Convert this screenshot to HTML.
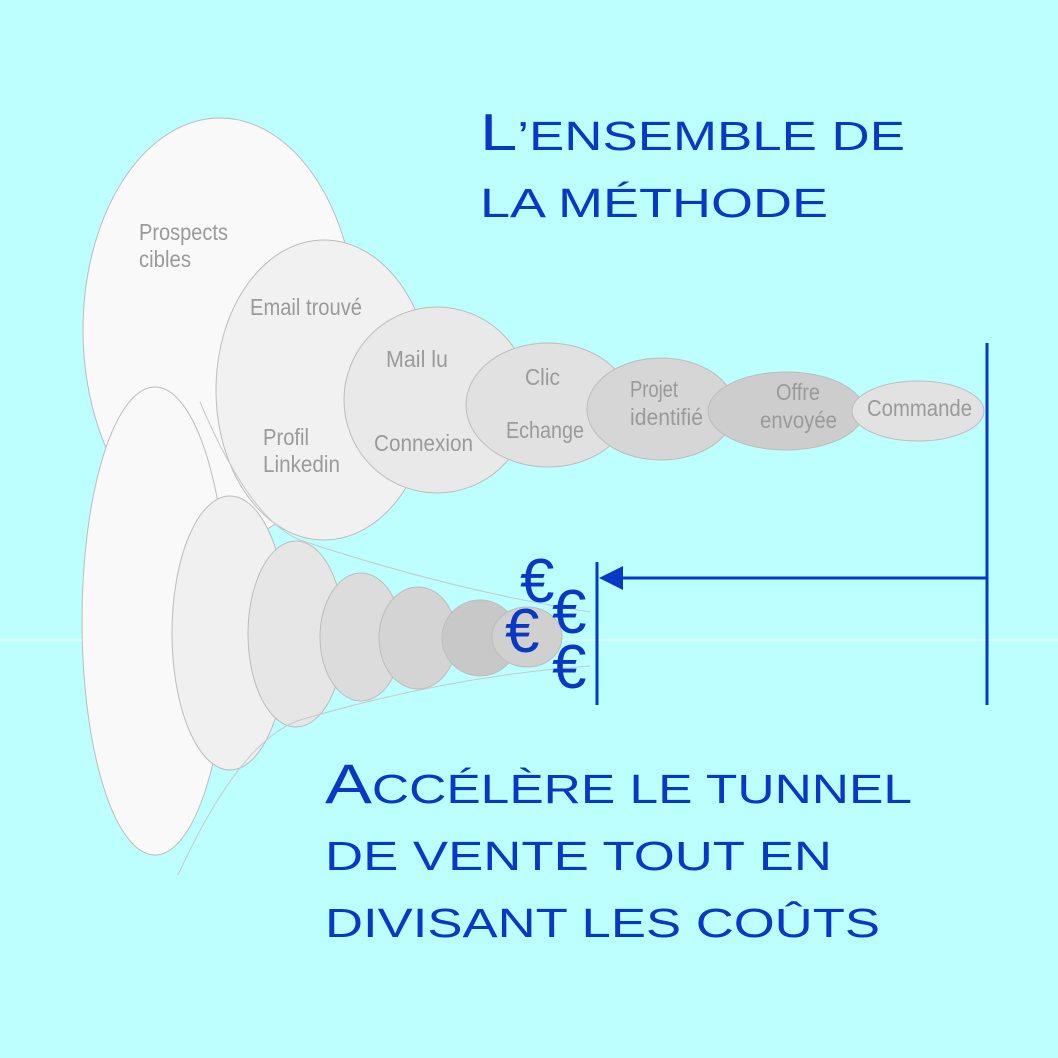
<!DOCTYPE html>
<html><head><meta charset="utf-8"><style>
html,body{margin:0;padding:0;background:#bdffff;}
svg{display:block}
.g{font-family:"Liberation Sans Narrow","Liberation Sans",sans-serif;fill:#9a9a9a;font-size:23px}
.b{font-family:"Liberation Sans",sans-serif;fill:#0838c4;}
</style></head><body>
<svg width="1058" height="1058" viewBox="0 0 1058 1058" xmlns="http://www.w3.org/2000/svg">
<rect width="1058" height="1058" fill="#bdffff"/>
<line x1="0" y1="640" x2="1058" y2="640" stroke="#e6ffff" stroke-width="1.5"/>
<g stroke="#bcbcbc" stroke-width="1">
<ellipse cx="220" cy="330" rx="137" ry="212" fill="#f9f9f9"/>
<ellipse cx="155" cy="621" rx="73" ry="234" fill="#f9f9f9"/>
<ellipse cx="324" cy="390" rx="108" ry="150" fill="#f1f1f1"/>
<ellipse cx="437" cy="400" rx="93" ry="93" fill="#e9e9e9"/>
<ellipse cx="548" cy="405" rx="82" ry="62" fill="#e1e1e1"/>
<ellipse cx="661" cy="409" rx="74" ry="51" fill="#d6d6d6"/>
<ellipse cx="786" cy="411" rx="78" ry="39" fill="#cdcdcd"/>
<ellipse cx="918" cy="411" rx="66" ry="30" fill="#e2e2e2"/>

<ellipse cx="230" cy="633" rx="58" ry="137" fill="#f0f0f0"/>
<ellipse cx="296" cy="634" rx="48" ry="93" fill="#e6e6e6"/>
<ellipse cx="361" cy="637" rx="41" ry="64" fill="#dcdcdc"/>
<ellipse cx="418" cy="638" rx="39" ry="51" fill="#d4d4d4"/>
<ellipse cx="480" cy="638" rx="38" ry="38" fill="#c8c8c8"/>
<ellipse cx="527" cy="637" rx="35" ry="30" fill="#d0d0d0"/>
</g>
<g fill="none" stroke="#c8c8c8" stroke-width="1">
<path d="M200 402 Q250 520 300 540 Q450 590 590 612"/>
<path d="M178 875 Q240 740 300 720 Q450 676 590 666"/>
</g>
<g class="g">
<text x="139" y="240" textLength="89" lengthAdjust="spacingAndGlyphs">Prospects</text><text x="139" y="267" textLength="52" lengthAdjust="spacingAndGlyphs">cibles</text>
<text x="250" y="315" textLength="112" lengthAdjust="spacingAndGlyphs">Email trouvé</text>
<text x="386" y="367" textLength="62" lengthAdjust="spacingAndGlyphs">Mail lu</text>
<text x="263" y="445" textLength="46" lengthAdjust="spacingAndGlyphs">Profil</text><text x="263" y="472" textLength="77" lengthAdjust="spacingAndGlyphs">Linkedin</text>
<text x="374" y="451" textLength="99" lengthAdjust="spacingAndGlyphs">Connexion</text>
<text x="525" y="385" textLength="35" lengthAdjust="spacingAndGlyphs">Clic</text>
<text x="506" y="438" textLength="78" lengthAdjust="spacingAndGlyphs">Echange</text>
<text x="630" y="397" textLength="48" lengthAdjust="spacingAndGlyphs">Projet</text><text x="630" y="425" textLength="73" lengthAdjust="spacingAndGlyphs">identifié</text>
<text x="776" y="400" textLength="44" lengthAdjust="spacingAndGlyphs">Offre</text><text x="760" y="428" textLength="77" lengthAdjust="spacingAndGlyphs">envoyée</text>
<text x="867" y="416" textLength="105" lengthAdjust="spacingAndGlyphs">Commande</text>
</g>
<g stroke="#0838c4" stroke-width="3" fill="none">
<line x1="987" y1="343" x2="987" y2="705"/>
<line x1="597" y1="562" x2="597" y2="705"/>
<line x1="987" y1="578" x2="618" y2="578"/>
</g>
<polygon points="599,578 623,566 623,590" fill="#0838c4"/>
<g font-family="Liberation Sans,sans-serif" font-size="62" fill="#0838c4">
<text x="520" y="602">€</text>
<text x="505" y="652">€</text>
<text x="552" y="633">€</text>
<text x="552" y="688">€</text>
</g>
<g class="b">
<text x="480" y="150" font-size="41" textLength="425" lengthAdjust="spacingAndGlyphs"><tspan font-size="52">L</tspan>’ENSEMBLE DE</text>
<text x="480" y="217" font-size="41" textLength="348" lengthAdjust="spacingAndGlyphs">LA MÉTHODE</text>
<text x="325" y="803" font-size="41" textLength="587" lengthAdjust="spacingAndGlyphs"><tspan font-size="56">A</tspan>CCÉLÈRE LE TUNNEL</text>
<text x="325" y="870" font-size="41" textLength="507" lengthAdjust="spacingAndGlyphs">DE VENTE TOUT EN</text>
<text x="325" y="937" font-size="41" textLength="555" lengthAdjust="spacingAndGlyphs">DIVISANT LES COÛTS</text>
</g>
</svg>
</body></html>
